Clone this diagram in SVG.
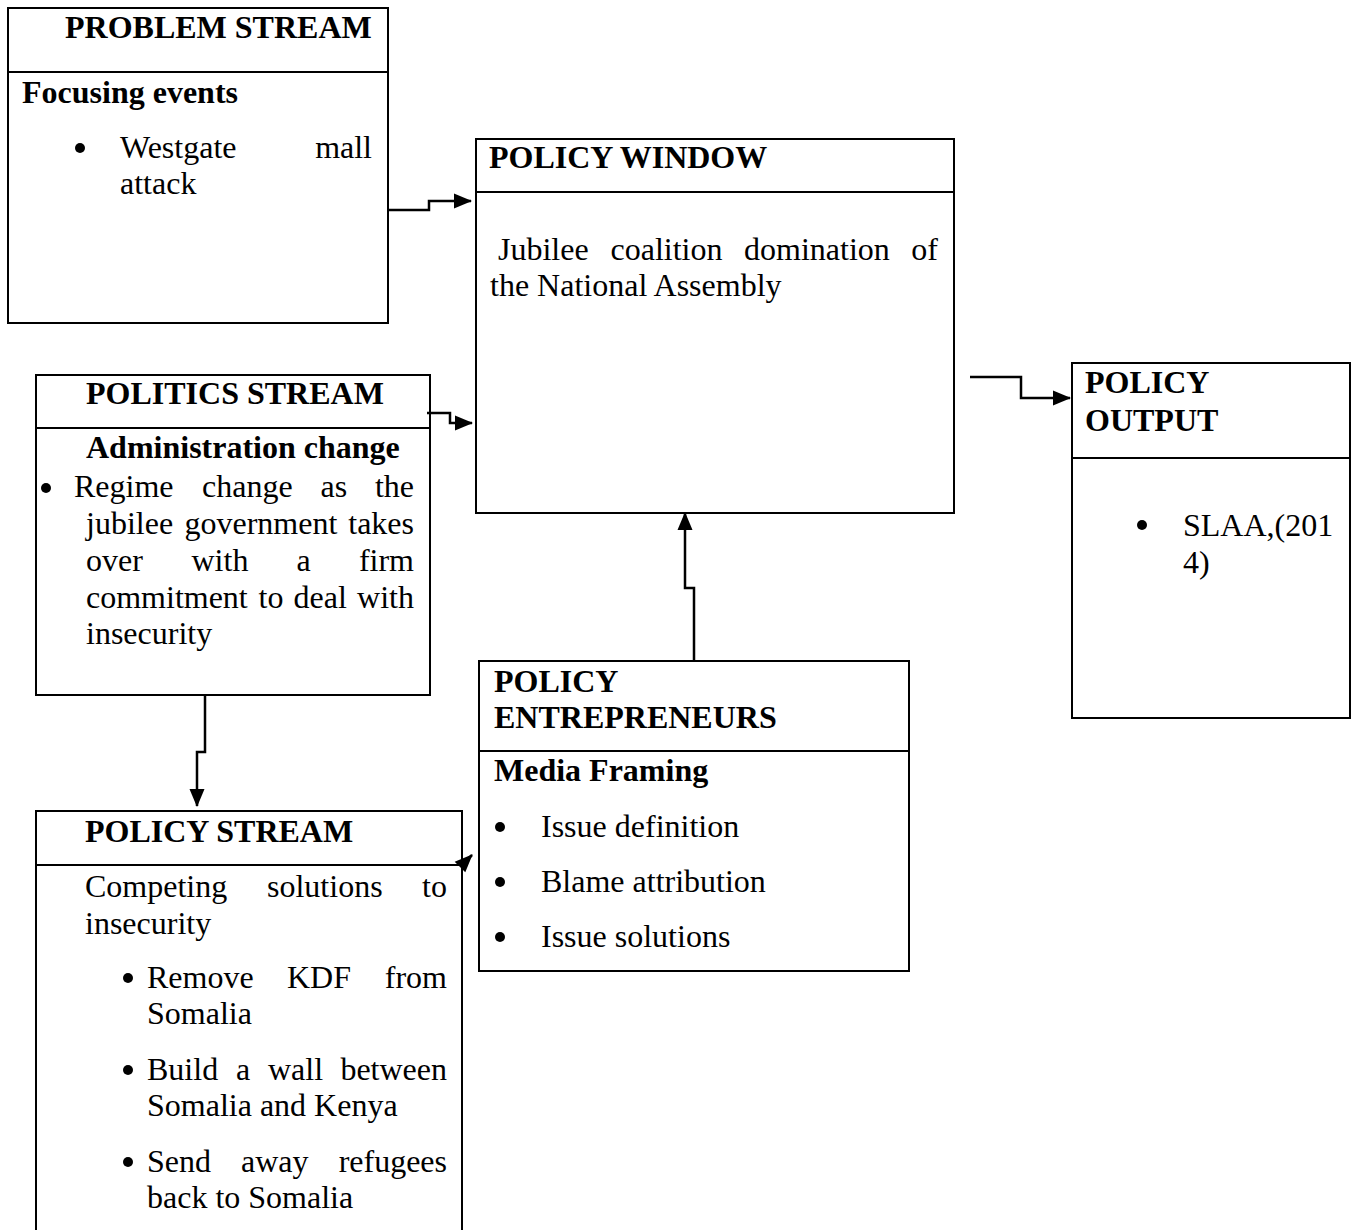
<svg xmlns="http://www.w3.org/2000/svg" width="1354" height="1230" viewBox="0 0 1354 1230">
<style>
.box{fill:#fff;stroke:#000;stroke-width:2}
.div{stroke:#000;stroke-width:2}
text{font-family:"Liberation Serif","Times New Roman",serif;font-size:32px;fill:#000}
.b{font-weight:bold}
.e{text-anchor:end}
.con{fill:none;stroke:#000;stroke-width:2.5}
</style>
<defs>
<marker id="ah" markerUnits="userSpaceOnUse" markerWidth="18" markerHeight="18" viewBox="0 0 18 18" refX="17" refY="9" orient="auto">
<path d="M0,1.5 L18,9 L0,16.5 Z" fill="#000"/>
</marker>
</defs>
<rect width="1354" height="1230" fill="#fff"/>

<g id="problem-stream">
<rect class="box" x="8" y="8" width="380" height="315"/>
<line class="div" x1="8" y1="72" x2="388" y2="72"/>
<text class="b" x="65" y="38">PROBLEM STREAM</text>
<text class="b" x="22" y="103">Focusing events</text>
<circle cx="80" cy="148" r="5"/>
<text x="120" y="158">Westgate</text>
<text class="e" x="372" y="158">mall</text>
<text x="120" y="194">attack</text>
</g>

<g id="policy-window">
<rect class="box" x="476" y="139" width="478" height="374"/>
<line class="div" x1="476" y1="192" x2="954" y2="192"/>
<text class="b" x="489" y="168">POLICY WINDOW</text>
<text x="498" y="260">Jubilee</text>
<text x="610.5" y="260">coalition</text>
<text x="744" y="260">domination</text>
<text class="e" x="938" y="260">of</text>
<text x="490" y="296">the National Assembly</text>
</g>

<g id="politics-stream">
<rect class="box" x="36" y="375" width="394" height="320"/>
<line class="div" x1="36" y1="428" x2="430" y2="428"/>
<text class="b" x="86" y="404">POLITICS STREAM</text>
<text class="b" x="86" y="458">Administration change</text>
<circle cx="46" cy="488" r="5"/>
<text x="74" y="497">Regime</text>
<text x="202" y="497">change</text>
<text x="320.5" y="497">as</text>
<text class="e" x="414" y="497">the</text>
<text x="86" y="534">jubilee</text>
<text x="184.5" y="534">government</text>
<text class="e" x="414" y="534">takes</text>
<text x="86" y="571">over</text>
<text x="191.5" y="571">with</text>
<text x="296.5" y="571">a</text>
<text class="e" x="414" y="571">firm</text>
<text x="86" y="608">commitment</text>
<text x="258.5" y="608">to</text>
<text x="293.5" y="608">deal</text>
<text class="e" x="414" y="608">with</text>
<text x="86" y="644">insecurity</text>
</g>

<g id="policy-output">
<rect class="box" x="1072" y="363" width="278" height="355"/>
<line class="div" x1="1072" y1="458" x2="1350" y2="458"/>
<text class="b" x="1085" y="393">POLICY</text>
<text class="b" x="1085" y="431">OUTPUT</text>
<circle cx="1142" cy="525" r="5"/>
<text x="1183" y="536">SLAA,(201</text>
<text x="1183" y="573">4)</text>
</g>

<g id="policy-entrepreneurs">
<rect class="box" x="479" y="661" width="430" height="310"/>
<line class="div" x1="479" y1="751" x2="909" y2="751"/>
<text class="b" x="494" y="692">POLICY</text>
<text class="b" x="494" y="728">ENTREPRENEURS</text>
<text class="b" x="494" y="781">Media Framing</text>
<circle cx="500" cy="827" r="5"/>
<text x="541" y="837">Issue definition</text>
<circle cx="500" cy="882" r="5"/>
<text x="541" y="892">Blame attribution</text>
<circle cx="500" cy="937" r="5"/>
<text x="541" y="947">Issue solutions</text>
</g>

<g id="policy-stream">
<rect class="box" x="36" y="811" width="426" height="440"/>
<line class="div" x1="36" y1="865" x2="462" y2="865"/>
<text class="b" x="85" y="842">POLICY STREAM</text>
<text x="85" y="897">Competing</text>
<text x="267" y="897">solutions</text>
<text class="e" x="447" y="897">to</text>
<text x="85" y="934">insecurity</text>
<circle cx="128" cy="978" r="5"/>
<text x="147" y="988">Remove</text>
<text x="287" y="988">KDF</text>
<text class="e" x="447" y="988">from</text>
<text x="147" y="1024">Somalia</text>
<circle cx="128" cy="1070" r="5"/>
<text x="147" y="1080">Build</text>
<text x="236" y="1080">a</text>
<text x="268" y="1080">wall</text>
<text class="e" x="447" y="1080">between</text>
<text x="147" y="1116">Somalia and Kenya</text>
<circle cx="128" cy="1162" r="5"/>
<text x="147" y="1172">Send</text>
<text x="241" y="1172">away</text>
<text class="e" x="447" y="1172">refugees</text>
<text x="147" y="1208">back to Somalia</text>
</g>

<g id="connectors">
<path class="con" d="M388,210 H429 V201 H471" marker-end="url(#ah)"/>
<path class="con" d="M427,413 H450 V423 H472" marker-end="url(#ah)"/>
<path class="con" d="M970,377 H1021 V398 H1070" marker-end="url(#ah)"/>
<path class="con" d="M694,661 V588 H685 V513" marker-end="url(#ah)"/>
<path class="con" d="M205,695 V752 H197 V806" marker-end="url(#ah)"/>
<path class="con" d="M461,866 L472,855" marker-end="url(#ah)"/>
</g>
</svg>
